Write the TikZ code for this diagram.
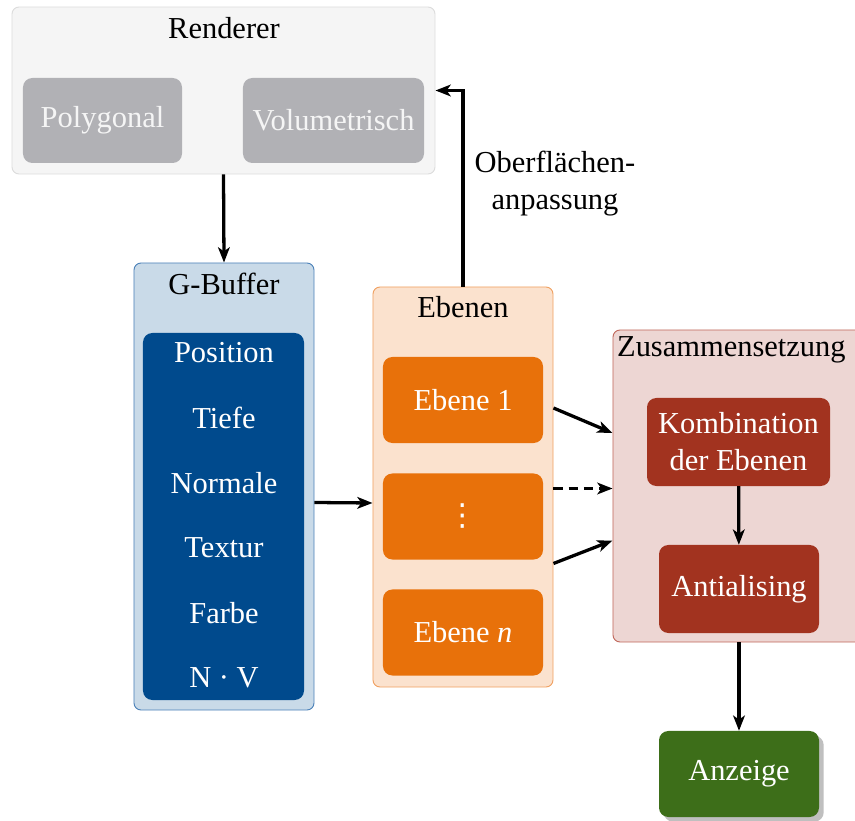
\documentclass[tikz,border=0pt]{standalone}
\usepackage{fontspec}
\setmainfont{Liberation Serif}
\newfontfamily\dotsfont{DejaVu Sans}
\usetikzlibrary{arrows.meta,shadows,calc}
\definecolor{renfill}{HTML}{F5F5F5}
\definecolor{renline}{HTML}{DCDCDC}
\definecolor{rengray}{HTML}{B1B1B5}
\definecolor{gbfill}{HTML}{C9DAE8}
\definecolor{gbline}{HTML}{4A80B8}
\definecolor{gbdark}{HTML}{004A8D}
\definecolor{ebfill}{HTML}{FBE2CE}
\definecolor{ebline}{HTML}{F0A060}
\definecolor{ebdark}{HTML}{E8710A}
\definecolor{zusfill}{HTML}{EDD6D3}
\definecolor{zusline}{HTML}{C0675A}
\definecolor{zusdark}{HTML}{A2331F}
\definecolor{anzgreen}{HTML}{3D6E19}

\begin{document}
\begin{tikzpicture}[x=0.03cm,y=-0.03cm,
        every node/.style={font=\fontsize{26}{31.5}\selectfont},
        outer/.style={draw,rounded corners=6pt,line width=0.8pt},
        inner/.style={rounded corners=8pt,text=white,align=center},
        arr/.style={-{Stealth[length=13pt,width=10pt,inset=3.5pt]},line width=2.8pt}]
            \useasboundingbox (0,0) rectangle (855,821);
            \node[outer,draw=renline,fill=renfill,minimum width=12.69cm,minimum height=5.01cm] (ren) at (223.5,90.5) {};
            \node (rentitle) at (224,28) {Renderer};
            \node[inner,fill=rengray,text=renfill,minimum width=4.77cm,minimum height=2.55cm] (poly) at (102.5,120.5) {Polygonal};
            \node[inner,fill=rengray,text=renfill,minimum width=5.43cm,minimum height=2.55cm] (vol) at (333.5,120.5) {Volumetrisch};
            \node[outer,draw=gbline,fill=gbfill,minimum width=5.4cm,minimum height=13.41cm] (gb) at (224,486.5) {};
            \node (gbtitle) at (224,284) {G-Buffer};
            \node[inner,fill=gbdark,minimum width=4.83cm,minimum height=11.01cm] (gbin) at (223.5,516.5) {};
            \foreach \t [count=\i] in {Position,Tiefe,Normale,Textur,Farbe,N · V}
                \node[text=white] (gb\i) at (224,{353+65*(\i-1)}) {\t};
            \node[outer,draw=ebline,fill=ebfill,minimum width=5.4cm,minimum height=12cm] (eb) at (463,487) {};
            \node (ebtitle) at (463,307) {Ebenen};
            \node[inner,fill=ebdark,minimum width=4.8cm,minimum height=2.58cm] (e1) at (463,400) {Ebene 1};
            \node[inner,fill=ebdark,minimum width=4.8cm,minimum height=2.58cm] (e2) at (463,516.5) {\dotsfont ⋮};
            \node[inner,fill=ebdark,minimum width=4.8cm,minimum height=2.58cm] (e3) at (463,632.5) {Ebene \textit{n}};
            \node[outer,draw=zusline,fill=zusfill,minimum width=7.56cm,minimum height=9.36cm] (zus) at (739,486) {};
            \node[anchor=west] (zustitle) at (613,350) {Zusammensetzung};
            \node[inner,fill=zusdark,minimum width=5.49cm,minimum height=2.64cm] (kom) at (738.5,442) {Kombination\\der Ebenen};
            \node[inner,fill=zusdark,minimum width=4.8cm,minimum height=2.64cm] (anti) at (739,589) {Antialising};
            \node[inner,fill=anzgreen,minimum width=4.8cm,minimum height=2.58cm,
                drop shadow={shadow xshift=4pt,shadow yshift=-4pt,fill=black!25,opacity=1}] (anz) at (739,774) {Anzeige};
            \node[align=center] (anp) at (555,184) {Oberflächen-\\anpassung};
            \draw[arr] (ren.south) -- (gb.north);
            \draw[arr] ([yshift=-0.48cm]gb.east) -- ([yshift=-0.48cm]eb.west);
            \draw[arr] (eb.north) |- (ren.east);
            \draw[arr] ($(eb.east |- e1)+(0,8)$) -- ($(zus.west |- e1)+(0,33)$);
            \draw[arr,dash pattern=on 8pt off 5pt] ($(eb.east |- e2)+(0,-28)$) -- ($(zus.west |- e2)+(0,-28)$);
            \draw[arr] ($(eb.east |- e2)+(0,47)$) -- ($(zus.west |- e2)+(0,24)$);
            \draw[arr] (kom) -- (anti);
            \draw[arr] (zus.south) -- (anz.north);
        \end{tikzpicture}
\end{document}
